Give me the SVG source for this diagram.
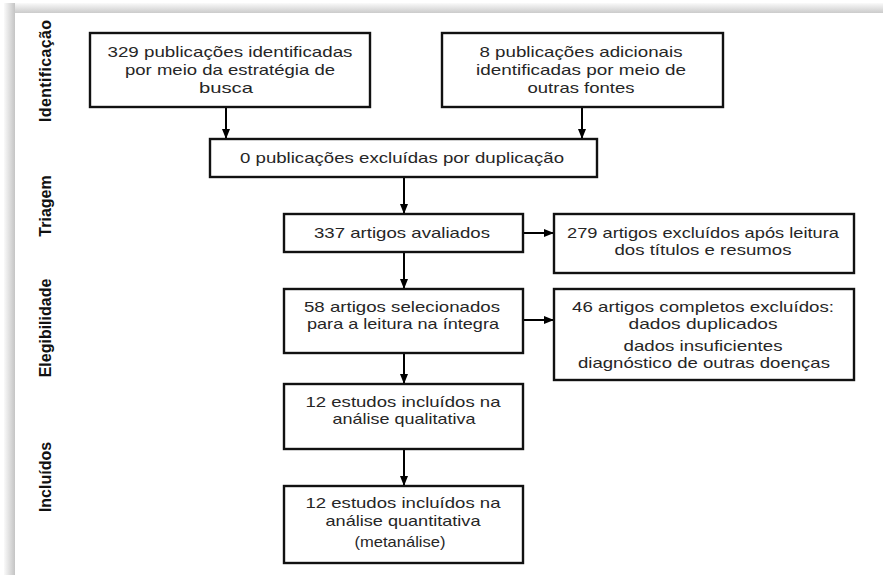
<svg xmlns="http://www.w3.org/2000/svg" width="883" height="575" viewBox="0 0 883 575">
<defs>
<linearGradient id="gTop" x1="0" y1="0" x2="0" y2="1"><stop offset="0" stop-color="#fafafa"/><stop offset="1" stop-color="#cbcbcb"/></linearGradient>
<linearGradient id="gLeft" x1="0" y1="0" x2="1" y2="0"><stop offset="0" stop-color="#fafafa"/><stop offset="1" stop-color="#c4c4c4"/></linearGradient>
<marker id="ah" markerUnits="userSpaceOnUse" markerWidth="10" markerHeight="10" viewBox="0 0 10 10" refX="10" refY="5" orient="auto"><path d="M0,1 L10,5 L0,9 Z" fill="#000"/></marker>
<style>
.box{fill:#fff;stroke:#111;stroke-width:2.4}
.t{font-family:"Liberation Sans",Arial,sans-serif;font-size:15px;fill:#262626;text-anchor:middle}
.side{font-family:"Liberation Sans",Arial,sans-serif;font-size:16px;font-weight:bold;fill:#111;text-anchor:middle}
.c{stroke:#000;stroke-width:2;fill:none;marker-end:url(#ah)}
</style>
</defs>
<rect x="0" y="0" width="883" height="575" fill="#fff"/>
<rect x="4" y="3" width="879" height="10" fill="url(#gTop)"/>
<rect x="4" y="3" width="11" height="572" fill="url(#gLeft)"/>
<rect x="15" y="13" width="868" height="562" fill="#fff"/>

<g id="labels">
<text class="side" transform="translate(51,71) rotate(-90)" textLength="102">Identificação</text>
<text class="side" transform="translate(51,206) rotate(-90)">Triagem</text>
<text class="side" transform="translate(51,328) rotate(-90)">Elegibilidade</text>
<text class="side" transform="translate(51,477) rotate(-90)">Incluídos</text>
</g>

<g id="connectors">
<line class="c" x1="226" y1="107" x2="226" y2="139"/>
<line class="c" x1="582" y1="107" x2="582" y2="139"/>
<line class="c" x1="404" y1="177" x2="404" y2="214"/>
<line class="c" x1="404" y1="252" x2="404" y2="289"/>
<line class="c" x1="404" y1="353" x2="404" y2="384"/>
<line class="c" x1="404" y1="449" x2="404" y2="486"/>
<line class="c" x1="523" y1="233" x2="554" y2="233"/>
<line class="c" x1="523" y1="320" x2="554" y2="320"/>
</g>

<g id="nodeA">
<rect class="box" x="90" y="33" width="280" height="74"/>
<text class="t" x="230" y="57" textLength="245" lengthAdjust="spacingAndGlyphs">329 publicações identificadas</text>
<text class="t" x="230" y="75" textLength="210" lengthAdjust="spacingAndGlyphs">por meio da estratégia de</text>
<text class="t" x="226" y="93" textLength="54" lengthAdjust="spacingAndGlyphs">busca</text>
</g>
<g id="nodeB">
<rect class="box" x="442" y="33" width="281" height="74"/>
<text class="t" x="581" y="57" textLength="203" lengthAdjust="spacingAndGlyphs">8 publicações adicionais</text>
<text class="t" x="581" y="75" textLength="210" lengthAdjust="spacingAndGlyphs">identificadas por meio de</text>
<text class="t" x="581" y="93" textLength="107" lengthAdjust="spacingAndGlyphs">outras fontes</text>
</g>
<g id="nodeC">
<rect class="box" x="210" y="139" width="387" height="38"/>
<text class="t" x="402" y="163" textLength="324" lengthAdjust="spacingAndGlyphs">0 publicações excluídas por duplicação</text>
</g>
<g id="nodeD">
<rect class="box" x="284" y="214" width="239" height="38"/>
<text class="t" x="402" y="238" textLength="176" lengthAdjust="spacingAndGlyphs">337 artigos avaliados</text>
</g>
<g id="nodeE">
<rect class="box" x="554" y="214" width="300" height="59"/>
<text class="t" x="703" y="237.5" textLength="272" lengthAdjust="spacingAndGlyphs">279 artigos excluídos após leitura</text>
<text class="t" x="703" y="254.5" textLength="177" lengthAdjust="spacingAndGlyphs">dos títulos e resumos</text>
</g>
<g id="nodeF">
<rect class="box" x="284" y="289" width="239" height="64"/>
<text class="t" x="402" y="311.5" textLength="196" lengthAdjust="spacingAndGlyphs">58 artigos selecionados</text>
<text class="t" x="403" y="328.5" textLength="192" lengthAdjust="spacingAndGlyphs">para a leitura na íntegra</text>
</g>
<g id="nodeG">
<rect class="box" x="554" y="289" width="300" height="91"/>
<text class="t" x="703" y="311.5" textLength="262" lengthAdjust="spacingAndGlyphs">46 artigos completos excluídos:</text>
<text class="t" x="703" y="328.5" textLength="149" lengthAdjust="spacingAndGlyphs">dados duplicados</text>
<text class="t" x="703" y="350.5" textLength="159" lengthAdjust="spacingAndGlyphs">dados insuficientes</text>
<text class="t" x="704" y="367.5" textLength="252" lengthAdjust="spacingAndGlyphs">diagnóstico de outras doenças</text>
</g>
<g id="nodeH">
<rect class="box" x="284" y="384" width="239" height="65"/>
<text class="t" x="403" y="407" textLength="195" lengthAdjust="spacingAndGlyphs">12 estudos incluídos na</text>
<text class="t" x="404" y="424" textLength="143" lengthAdjust="spacingAndGlyphs">análise qualitativa</text>
</g>
<g id="nodeI">
<rect class="box" x="284" y="486" width="239" height="77"/>
<text class="t" x="403" y="508" textLength="195" lengthAdjust="spacingAndGlyphs">12 estudos incluídos na</text>
<text class="t" x="403" y="526" textLength="155" lengthAdjust="spacingAndGlyphs">análise quantitativa</text>
<text class="t" x="400" y="547" textLength="91" lengthAdjust="spacingAndGlyphs">(metanálise)</text>
</g>
</svg>
